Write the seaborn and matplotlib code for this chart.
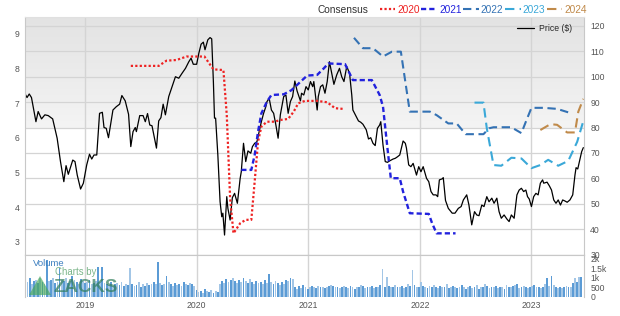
import numpy as np
import matplotlib
matplotlib.use("Agg")
import matplotlib.pyplot as plt
from matplotlib.colors import LinearSegmentedColormap
from matplotlib.patches import Polygon
import seaborn as sns

# ---------------- data ----------------
price_t = [2018.46, 2018.48, 2018.50, 2018.52, 2018.56, 2018.58, 2018.61, 2018.64, 2018.67, 2018.71,
           2018.75, 2018.78, 2018.81, 2018.83, 2018.85, 2018.89, 2018.91, 2018.93, 2018.96, 2018.985,
           2019.015, 2019.04, 2019.06, 2019.08, 2019.105, 2019.13, 2019.155, 2019.17, 2019.19, 2019.21,
           2019.25, 2019.28, 2019.31, 2019.33, 2019.36, 2019.39, 2019.41, 2019.43, 2019.45, 2019.46,
           2019.49, 2019.52, 2019.54, 2019.56, 2019.58, 2019.60, 2019.64, 2019.66, 2019.68, 2019.70,
           2019.72, 2019.75, 2019.78, 2019.81, 2019.84, 2019.87, 2019.90, 2019.93, 2019.95, 2019.97,
           2020.00, 2020.02, 2020.04, 2020.06, 2020.075, 2020.10, 2020.12, 2020.135, 2020.15, 2020.16,
           2020.17, 2020.19, 2020.21, 2020.225, 2020.235, 2020.25, 2020.27, 2020.28, 2020.30, 2020.32,
           2020.34, 2020.365, 2020.39, 2020.40, 2020.42, 2020.44, 2020.46, 2020.485, 2020.50, 2020.52,
           2020.54, 2020.56, 2020.58, 2020.60, 2020.62, 2020.63, 2020.65, 2020.67, 2020.69, 2020.71,
           2020.73, 2020.75, 2020.78, 2020.80, 2020.82, 2020.84, 2020.86, 2020.88, 2020.90, 2020.93,
           2020.94, 2020.96, 2020.98, 2021.00, 2021.02, 2021.04, 2021.05, 2021.08, 2021.09, 2021.11,
           2021.13, 2021.15, 2021.17, 2021.19, 2021.21, 2021.23, 2021.255, 2021.28, 2021.30, 2021.32,
           2021.345, 2021.37, 2021.39, 2021.40, 2021.43, 2021.45, 2021.47, 2021.49, 2021.52, 2021.54,
           2021.56, 2021.58, 2021.60, 2021.62, 2021.64, 2021.65, 2021.67, 2021.69, 2021.71, 2021.73,
           2021.76, 2021.78, 2021.80, 2021.82, 2021.85, 2021.87, 2021.88, 2021.90, 2021.92, 2021.94,
           2021.97, 2021.99, 2022.01, 2022.03, 2022.06, 2022.08, 2022.10, 2022.12, 2022.145, 2022.16,
           2022.175, 2022.20, 2022.21, 2022.23, 2022.255, 2022.29, 2022.315, 2022.345, 2022.37, 2022.39,
           2022.42, 2022.44, 2022.465, 2022.49, 2022.51, 2022.53, 2022.555, 2022.575, 2022.60, 2022.62,
           2022.645, 2022.665, 2022.69, 2022.71, 2022.73, 2022.755, 2022.78, 2022.80, 2022.82, 2022.845,
           2022.87, 2022.89, 2022.91, 2022.93, 2022.95, 2022.965, 2022.98, 2023.00, 2023.02, 2023.04,
           2023.06, 2023.08, 2023.10, 2023.11, 2023.14, 2023.16, 2023.18, 2023.20, 2023.22, 2023.24,
           2023.26, 2023.28, 2023.30, 2023.32, 2023.345, 2023.37, 2023.39, 2023.40, 2023.415, 2023.43,
           2023.45, 2023.465]
price_v = [93.5, 91.8, 93.2, 91.8, 82.3, 86.3, 83.4, 85.0, 84.7, 83.4,
           75.8, 66.6, 58.7, 65.0, 61.6, 67.2, 66.6, 61.3, 55.8, 58.1,
           65.3, 69.5, 67.6, 69.2, 69.2, 85.6, 86.0, 80.0, 79.7, 76.0,
           86.9, 88.2, 89.2, 92.6, 90.5, 85.2, 72.5, 78.4, 80.0, 78.4,
           84.7, 84.7, 82.3, 85.5, 81.0, 80.7, 71.9, 82.6, 83.9, 89.2,
           85.0, 92.2, 96.1, 100.0, 99.4, 101.4, 103.3, 105.9, 107.3, 104.9,
           104.9, 109.3, 112.8, 113.6, 110.6, 114.5, 115.4, 114.9, 98.1, 83.7,
           83.7, 69.2, 50.8, 44.9, 46.3, 37.7, 52.8, 48.2, 43.6, 52.4,
           54.1, 50.2, 60.0, 62.6, 73.8, 66.6, 70.8, 69.9, 72.5, 73.8,
           74.4, 78.4, 82.3, 85.6, 88.2, 90.2, 91.5, 86.9, 85.6, 81.0,
           75.8, 85.0, 92.2, 92.8, 85.6, 90.2, 92.2, 98.3, 94.4, 90.5,
           93.5, 92.8, 96.1, 94.8, 98.1, 96.1, 98.1, 86.9, 92.2, 96.1,
           96.8, 93.5, 98.1, 105.9, 101.4, 97.0, 100.7, 103.3, 100.0, 98.1,
           104.0, 101.4, 92.8, 86.9, 84.3, 82.6, 82.1, 81.3, 79.1, 75.5,
           76.0, 73.8, 72.9, 79.7, 81.0, 82.3, 73.1, 66.6, 66.3, 66.9,
           67.6, 67.9, 68.5, 69.2, 74.7, 73.8, 71.9, 65.3, 64.6, 65.9,
           61.3, 64.6, 62.6, 64.6, 60.0, 58.7, 54.8, 53.5, 53.5, 52.8,
           59.4, 59.8, 60.3, 51.3, 48.2, 46.3, 46.3, 48.2, 48.9, 51.5,
           53.5, 49.5, 41.7, 46.9, 45.6, 45.3, 49.5, 48.9, 52.8, 50.8,
           52.2, 50.2, 52.2, 46.9, 44.3, 45.6, 44.0, 43.0, 45.6, 44.3,
           53.5, 55.4, 56.1, 54.8, 55.4, 52.8, 51.9, 48.9, 52.8, 54.1,
           53.5, 58.1, 59.4, 58.1, 58.5, 57.1, 55.4, 51.5, 50.2, 51.5,
           49.5, 51.5, 51.1, 50.6, 51.5, 53.5, 61.3, 64.2, 63.7, 66.6,
           70.5, 72.1]

c2020_t = [2019.41, 2019.66, 2019.73, 2019.82, 2019.91, 2020.07, 2020.15, 2020.24, 2020.27, 2020.30,
           2020.33, 2020.39, 2020.44, 2020.49, 2020.52, 2020.55, 2020.58, 2020.63, 2020.70, 2020.75,
           2020.82, 2020.87, 2020.91, 2020.97, 2021.08, 2021.17, 2021.24, 2021.31]
c2020_v = [8.08, 8.08, 8.23, 8.25, 8.35, 8.35, 7.98, 7.96, 6.66, 4.26,
           3.25, 3.54, 3.64, 3.64, 4.74, 5.89, 6.33, 6.47, 6.47, 6.52,
           6.55, 6.76, 7.00, 7.07, 7.07, 7.03, 6.86, 6.84]

c2021_t = [2020.40, 2020.49, 2020.52, 2020.55, 2020.58, 2020.63, 2020.67, 2020.78, 2020.85, 2020.93,
           2020.99, 2021.08, 2021.14, 2021.18, 2021.33, 2021.40, 2021.57, 2021.64, 2021.67, 2021.71,
           2021.74, 2021.82, 2021.85, 2021.91, 2022.08, 2022.11, 2022.15, 2022.32]
c2021_v = [5.08, 5.08, 5.51, 6.18, 6.71, 7.05, 7.24, 7.26, 7.38, 7.62,
           7.80, 7.82, 8.01, 8.15, 8.13, 7.67, 7.67, 7.24, 6.90, 5.70,
           4.84, 4.84, 4.45, 3.83, 3.81, 3.54, 3.25, 3.25]

c2022_t = [2021.41, 2021.49, 2021.58, 2021.67, 2021.75, 2021.83, 2021.87, 2021.91, 2022.09, 2022.15,
           2022.255, 2022.33, 2022.41, 2022.57, 2022.62, 2022.66, 2022.82, 2022.91, 2022.95, 2023.00,
           2023.11, 2023.23, 2023.33]
c2022_v = [8.89, 8.59, 8.59, 8.35, 8.49, 8.49, 7.62, 6.76, 6.76, 6.66,
           6.42, 6.42, 6.11, 6.11, 6.28, 6.31, 6.31, 6.14, 6.47, 6.87,
           6.87, 6.84, 6.74]

c2023_t = [2022.49, 2022.57, 2022.60, 2022.66, 2022.73, 2022.82, 2022.91, 2023.00, 2023.08, 2023.15,
           2023.24, 2023.33, 2023.41, 2023.465]
c2023_v = [7.02, 7.02, 6.28, 5.22, 5.20, 5.43, 5.41, 5.13, 5.22, 5.37,
           5.20, 5.34, 5.89, 6.49]

c2024_t = [2023.08, 2023.17, 2023.23, 2023.32, 2023.39, 2023.42, 2023.465]
c2024_v = [6.23, 6.40, 6.38, 6.16, 6.16, 6.76, 7.13]

volume = [950, 800, 1000, 700, 850, 900, 750, 1000, 800, 700,
          1950, 850, 900, 1000, 750, 800, 1550, 900, 850, 1000,
          750, 850, 1100, 900, 800, 700, 950, 850, 750, 800,
          900, 700, 750, 850, 1600, 800, 1600, 750, 700, 650,
          800, 600, 700, 750, 650, 800, 600, 700, 650, 1530,
          700, 600, 650, 800, 550, 700, 600, 750, 650, 700,
          800, 700, 1820, 750, 650, 700, 1090, 800, 700, 600,
          750, 650, 700, 600, 800, 700, 650, 750, 700, 600,
          350, 250, 300, 200, 400, 300, 250, 350, 200, 300,
          250, 700, 850, 750, 950, 800, 900, 1000, 850, 750,
          900, 800, 1000, 850, 750, 950, 800, 700, 850, 750,
          800, 700, 900, 750, 1230, 800, 700, 850, 750, 650,
          800, 700, 900, 850, 1000, 950, 500, 400, 600, 450,
          650, 500, 400, 550, 600, 500, 450, 600, 550, 500,
          450, 500, 600, 650, 600, 500, 550, 450, 500, 600,
          550, 450, 600, 500, 400, 550, 500, 650, 600, 450,
          500, 550, 600, 450, 500, 550, 650, 1490, 500, 1040,
          600, 550, 500, 650, 550, 500, 600, 450, 550, 700,
          600, 1400, 650, 550, 500, 800, 600, 550, 450, 600,
          500, 650, 550, 450, 600, 500, 550, 700, 450, 500,
          600, 550, 450, 500, 650, 500, 400, 550, 600, 450,
          500, 650, 400, 550, 500, 700, 600, 450, 500, 550,
          600, 450, 550, 500, 400, 650, 550, 500, 600, 650,
          700, 450, 500, 600, 550, 450, 500, 600, 650, 500,
          550, 450, 500, 700, 1020, 600, 1080, 650, 500, 450,
          550, 450, 500, 600, 500, 550, 720, 980, 800, 1040,
          1040]
vol_start = 2018.465
vol_t = vol_start + np.arange(len(volume)) / 52.18

years = [2019, 2020, 2021, 2022, 2023]
year_labels = ["2019", "2020", "2021", "2022", "2023"]
price_ticks = [30, 40, 50, 60, 70, 80, 90, 100, 110, 120]
eps_ticks = [3, 4, 5, 6, 7, 8, 9]
vol_ticks = [0, 500, 1000, 1500, 2000]
vol_tick_labels = ["0", "500", "1k", "1.5k", "2k"]
series_labels = ["2020", "2021", "2022", "2023", "2024"]

# ---------------- style ----------------
sns.set_theme(style="white")
plt.rcParams["font.family"] = ["Liberation Sans", "DejaVu Sans"]

W, H = 620, 316
fig = plt.figure(figsize=(W / 100, H / 100), dpi=100)
L, R, T, B, VB = 25, 584, 17, 255, 297
ax = fig.add_axes([L / W, 1 - B / H, (R - L) / W, (B - T) / H])
axv = fig.add_axes([L / W, 1 - VB / H, (R - L) / W, (VB - B) / H], sharex=ax)
ax2 = ax.twinx()

grid_c = "#d4d4d4"
tick_c = "#555555"
spine_c = "#c8c8c8"

# gradient background in top part of price panel
cmap = LinearSegmentedColormap.from_list("bg", ["#e3e3e3", "#f4f4f4"])
ax.imshow(np.linspace(0, 1, 100).reshape(-1, 1), extent=(0, 1, 0.534, 1),
          transform=ax.transAxes, aspect="auto", cmap=cmap, zorder=0)

# price line
sns.lineplot(x=price_t, y=price_v, ax=ax, color="black", lw=0.9,
             estimator=None, sort=False, label="Price ($)")

# consensus lines
cons = [
    (c2020_t, c2020_v, "#ee2222", (0, (1, 1)), 1.6),
    (c2021_t, c2021_v, "#2222dd", (0, (2.2, 1.3)), 1.7),
    (c2022_t, c2022_v, "#3472b4", (0, (4, 2.2)), 1.5),
    (c2023_t, c2023_v, "#3aa8d8", (0, (4.5, 2.5)), 1.5),
    (c2024_t, c2024_v, "#c08a4a", (0, (4.5, 2.5)), 1.5),
]
for (tt, vv, col, ls, lw), lab in zip(cons, series_labels):
    sns.lineplot(x=tt, y=vv, ax=ax2, color=col, linestyle=ls, lw=lw,
                 estimator=None, sort=False, label=lab)

# volume bars
sns.barplot(x=vol_t, y=volume, ax=axv, native_scale=True, color="#7fb0dc",
            saturation=1, errorbar=None, width=0.85)
for i, p in enumerate(axv.patches):
    p.set_facecolor("#5b9bd5" if i % 2 == 0 else "#a3c6e6")
    p.set_edgecolor("none")

# limits
ax.set_xlim(2018.462, 2023.471)
ax.set_ylim(29.84, 123.5)
ax2.set_ylim(2.625, 9.49)
axv.set_ylim(0, 2210)

# ticks
ax.set_yticks(price_ticks)
ax.yaxis.set_ticks_position("right")
ax.yaxis.set_label_position("right")
ax2.set_yticks(eps_ticks)
ax2.yaxis.set_ticks_position("left")
ax2.yaxis.set_label_position("left")
ax.tick_params(axis="y", which="both", length=0, pad=4.5, labelsize=6.2,
               labelcolor=tick_c, left=False, right=False, labelleft=False, labelright=True)
ax2.tick_params(axis="y", which="both", length=0, pad=4, labelsize=6.2,
                labelcolor=tick_c, left=False, right=False, labelleft=True, labelright=False)
ax.tick_params(axis="x", length=0, labelbottom=False)
axv.set_xticks(years)
axv.set_xticklabels(year_labels)
axv.tick_params(axis="x", length=0, pad=3, labelsize=6.2, labelcolor=tick_c)
axv.set_yticks(vol_ticks)
axv.set_yticklabels(vol_tick_labels)
axv.yaxis.set_ticks_position("right")
axv.tick_params(axis="y", length=0, pad=4.5, labelsize=6.2, labelcolor=tick_c,
                labelleft=False, labelright=True)
ax.set_xlabel("")
ax.set_ylabel("")
ax2.set_ylabel("")
axv.set_xlabel("")
axv.set_ylabel("")

# grids
ax.set_axisbelow(True)
ax.grid(axis="y", color=grid_c, lw=0.9)
ax.grid(axis="x", color=grid_c, lw=1.0)
ax2.grid(False)
axv.set_axisbelow(True)
axv.grid(axis="x", color=grid_c, lw=1.0)
axv.grid(axis="y", visible=False)

for a in (ax, axv):
    for s in a.spines.values():
        s.set_color(spine_c)
        s.set_linewidth(0.8)
for s in ax2.spines.values():
    s.set_visible(False)
axv.spines["bottom"].set_visible(False)
ax.spines["top"].set_color("#e0e0e0")

# legends
lg2 = ax2.get_legend()
handles = ax2.get_lines()
if lg2 is not None:
    lg2.remove()
ax.legend(loc="upper right", bbox_to_anchor=(0.99, 0.995), frameon=False, fontsize=6.2,
          handlelength=2.0, handletextpad=0.6, borderaxespad=0.3)
leg = fig.legend(handles=handles, labels=series_labels, loc="center right",
                 bbox_to_anchor=(592 / W, 1 - 10 / H), ncol=5, frameon=False, fontsize=7.3,
                 handlelength=1.55, handletextpad=0.2, columnspacing=0.15, borderpad=0.0)
for txt, (_, _, col, _, _) in zip(leg.get_texts(), cons):
    txt.set_color(col)
fig.text(318 / W, 1 - 10 / H, "Consensus", fontsize=7.3, color="#333333",
         ha="left", va="center")

# watermark
fig.text(33 / W, 1 - 264 / H, "Volume", fontsize=6.8, color="#3d7fbf", ha="left", va="center")
fig.text(55 / W, 1 - 272 / H, "Charts by", fontsize=6.9, color="#4f9c62", alpha=0.75,
         ha="left", va="center")
fig.text(54 / W, 1 - 287 / H, "ZACKS", fontsize=13.5, fontweight="bold", color="#2f7d5a",
         alpha=0.7, ha="left", va="center")
tri = Polygon([[29 / W, 1 - 295 / H], [51 / W, 1 - 295 / H], [40 / W, 1 - 276 / H]],
              closed=True, transform=fig.transFigure, facecolor="#46a857", alpha=0.65,
              edgecolor="none")
fig.patches.append(tri)

fig.savefig("out.png", dpi=100, facecolor="white")
